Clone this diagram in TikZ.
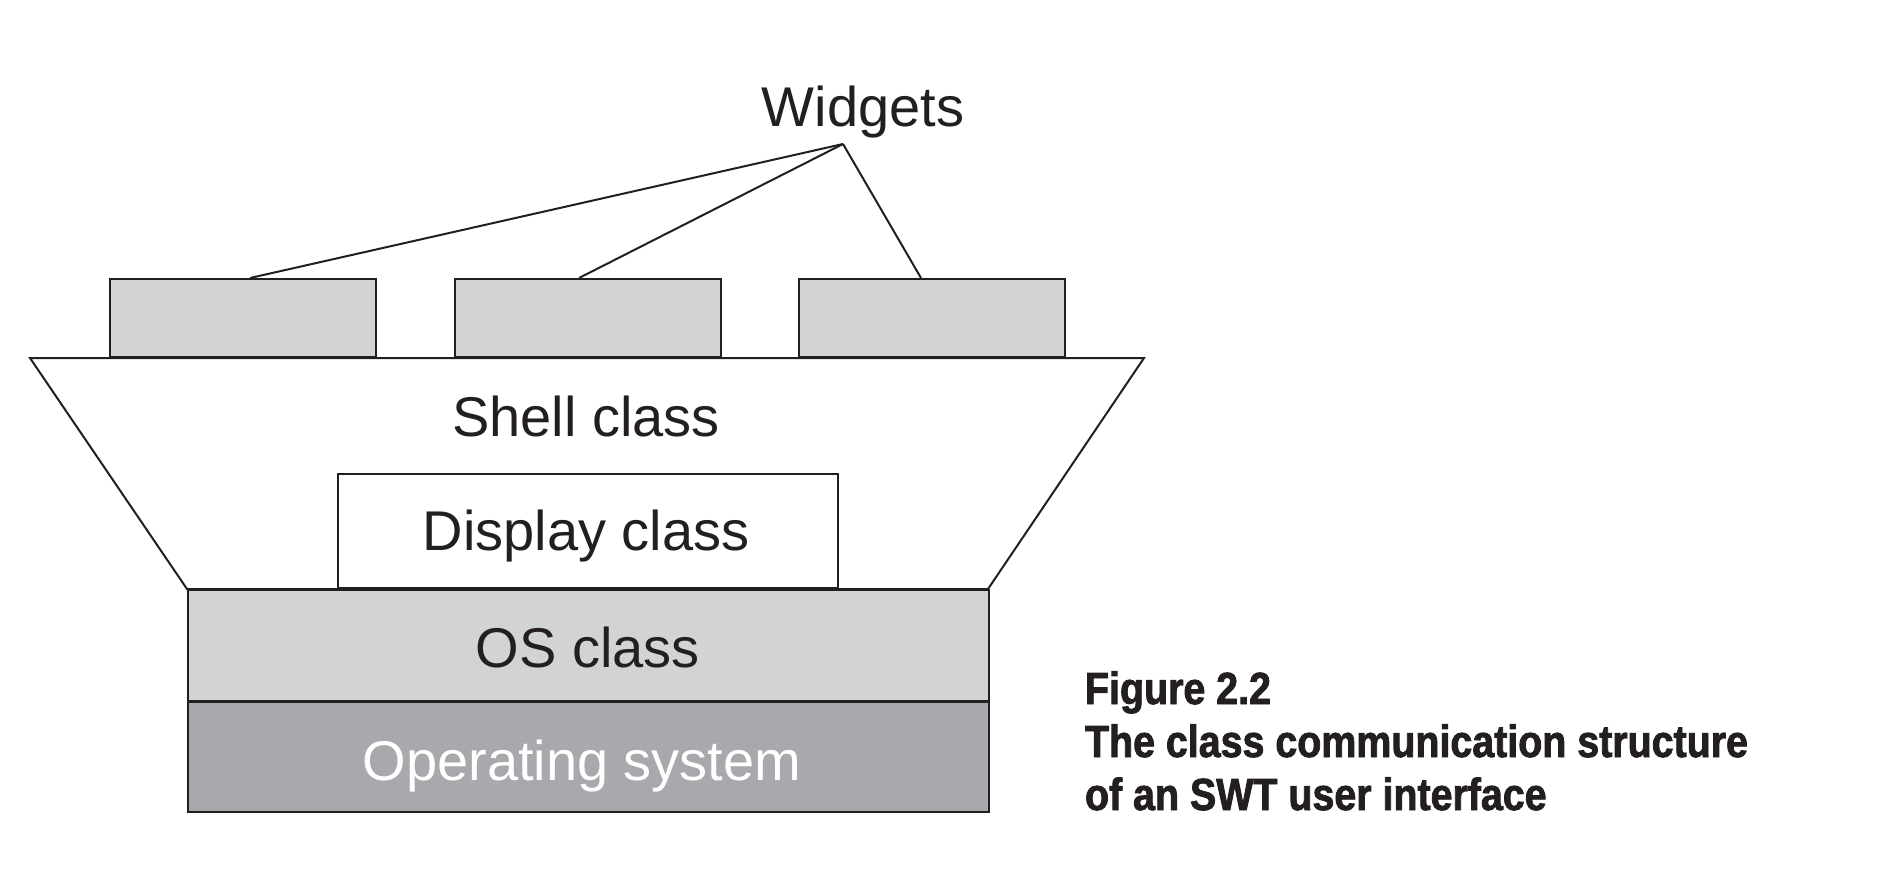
\documentclass[tikz,border=0pt]{standalone}
\usepackage{fontspec}
\setmainfont{Liberation Sans}
\newfontfamily\capfont[FakeStretch=0.875,FakeBold=1.8]{Liberation Sans Bold}
\usetikzlibrary{calc}
\definecolor{ink}{HTML}{231F20}
\definecolor{lightgray}{HTML}{D1D3D4}
\definecolor{midgray}{HTML}{A7A9AC}
\begin{document}
\begin{tikzpicture}[x=1pt,y=-1pt,
  line width=2pt, draw=ink,
  widgetbox/.style={draw=ink, fill=lightgray, minimum width=266pt, minimum height=78pt, inner sep=0pt, anchor=north west},
  label/.style={font=\fontsize{56}{60}\selectfont, text=ink, inner sep=0pt, anchor=base},
  layer/.style={draw=ink, minimum width=801pt, minimum height=111pt, inner sep=0pt, anchor=north west},
  caption/.style={font=\capfont\fontsize{45}{53}\selectfont, text=ink, inner sep=0pt, anchor=base west}]
\useasboundingbox (0,0) rectangle (1878,880);

% shell trapezoid
\coordinate (stl) at (30,358);
\coordinate (str) at (1144,358);
\coordinate (sbr) at (988,589);
\coordinate (sbl) at (187,589);
\draw[line join=miter] (stl) -- (str) -- (sbr) -- (sbl) -- cycle;
\node[label] (shell) at (586,436) {Shell class};

% widgets
\node[widgetbox] (w1) at (109,278) {};
\node[widgetbox] (w2) at (454,278) {};
\node[widgetbox] (w3) at (798,278) {};
\node[label] (widgets) at (863,127) {Widgets};
\coordinate (fan) at (843,144);
\draw (fan) -- ([xshift=7pt]w1.north);
\draw (fan) -- ([xshift=-9pt]w2.north);
\draw (fan) -- ([xshift=-11pt]w3.north);

% display, OS class and operating system
\node[draw=ink, fill=white, minimum width=500pt, minimum height=114pt, inner sep=0pt, anchor=north west] (display) at (337,473) {};
\node[label] at (586,550) {Display class};
\node[layer, fill=lightgray] (os) at (187,589) {};
\node[label] at (588,667) {OS class};
\node[layer, fill=midgray, minimum height=110pt] (opsys) at (187,701) {};
\node[label, text=white] at (582,780) {Operating system};

% caption
\node[caption] (cap1) at (1084,704) {Figure 2.2};
\node[caption] (cap2) at (1084,757) {The class communication structure};
\node[caption] (cap3) at (1084,810) {of an SWT user interface};
\end{tikzpicture}
\end{document}
